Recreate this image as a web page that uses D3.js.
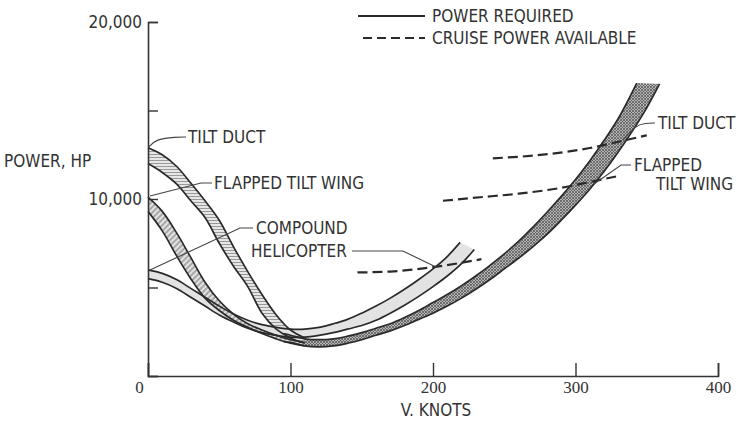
<!DOCTYPE html>
<html><head><meta charset="utf-8">
<script src="https://cdn.jsdelivr.net/npm/d3@7"></script>
<style>
html,body{margin:0;padding:0;background:#fff;}
svg text{font-family:'DejaVu Sans Condensed','DejaVu Sans',sans-serif;font-stretch:condensed;font-size:17px;fill:#333;}
</style></head>
<body><svg id="c" width="738" height="421"></svg>
<script>
// ---- data (V knots, power HP) ----
const xTicks = [0, 100, 200, 300, 400];
const yTicks = [0, 5000, 10000, 15000, 20000];
const yTickLabels = [10000, 20000];

const tiltDuctUpper = [[0,12900],[10,12500],[20,11850],[30,10900],[40,9900],[50,8800],[60,7300],[70,5900],[80,4600],[90,3450],[100,2600],[110,2150]];
const tiltDuctLower = [[0,12000],[10,11500],[20,10850],[30,9900],[40,8950],[50,7500],[60,6200],[70,5050],[80,3550],[90,2650],[100,2150],[110,1850]];

const tiltWingUpper = [[0,10100],[10,9300],[20,8100],[30,6700],[40,5300],[50,4250],[60,3500],[70,2950],[80,2600],[90,2300],[100,2050],[110,1900]];
const tiltWingLower = [[0,9300],[10,8200],[20,6800],[30,5500],[40,4400],[50,3700],[60,3150],[70,2750],[80,2400],[90,2100],[100,1850],[110,1700]];

const compoundUpper = [[0,6000],[10,5800],[20,5450],[30,4950],[40,4450],[50,3950],[60,3500],[70,3150],[80,2900],[90,2750],[100,2650],[110,2650],[120,2750],[130,2950],[140,3200],[150,3550],[160,3950],[170,4400],[180,4900],[190,5450],[200,6050],[210,6750],[219,7550]];
const compoundLower = [[0,5500],[10,5300],[20,4950],[30,4450],[40,3950],[50,3450],[60,3050],[70,2700],[80,2450],[90,2300],[100,2200],[110,2200],[120,2300],[130,2450],[140,2650],[150,2850],[160,3150],[170,3550],[180,4000],[190,4500],[200,5050],[210,5650],[220,6350],[229,7150]];

const highSpeedUpper = [[95,2400],[100,2300],[110,2100],[120,2050],[130,2100],[140,2250],[150,2450],[160,2700],[170,2950],[180,3300],[190,3700],[200,4150],[210,4600],[220,5100],[230,5650],[240,6250],[250,6900],[260,7600],[270,8400],[280,9250],[290,10150],[300,11100],[310,12150],[320,13300],[330,14550],[343,16550]];
const highSpeedLower = [[95,1950],[100,1900],[110,1700],[120,1650],[130,1700],[140,1850],[150,2050],[160,2300],[170,2550],[180,2850],[190,3200],[200,3550],[210,3950],[220,4400],[230,4900],[240,5450],[250,6050],[260,6650],[270,7300],[280,8000],[290,8800],[300,9650],[310,10550],[320,11550],[330,12650],[340,13850],[350,15150],[359,16500]];

const compoundAvail = [[147,5850],[170,5900],[200,6150],[234,6600]];
const tiltWingAvail = [[207,9900],[233,10100],[260,10300],[289,10620],[310,10960],[330,11300]];
const tiltDuctAvail = [[242,12300],[270,12450],[310,12880],[331,13250],[350,13600]];

// annotations (data units)
const labels = [
  {t:"TILT DUCT", v:28.1, p:13500},
  {t:"FLAPPED TILT WING", v:46.3, p:10900},
  {t:"COMPOUND", v:75.8, p:8360},
  {t:"HELICOPTER", v:72.3, p:7060},
  {t:"TILT DUCT", v:357.9, p:14290},
  {t:"FLAPPED", v:341, p:11920},
  {t:"TILT WING", v:356.5, p:10850}
];
const leaders = [
  {pts:[[26.7,13500],[19.6,13500],[6,13400],[0.7,12940]], curve:true},
  {pts:[[44.9,10900],[37.2,10900],[1.4,10170]]},
  {pts:[[73.7,8360],[64.6,8360],[1.4,5990]]},
  {pts:[[143.2,7060],[178.9,7060],[202.1,6160]]},
  {pts:[[355.8,14290],[348.8,14290],[342,14150],[333.3,13330]], curve:true},
  {pts:[[339,11920],[332,11920],[313,10850]]}
];

// ---- chart ----
const svg = d3.select("#c");
const x = d3.scaleLinear().domain([0,400]).range([148,718]);
const y = d3.scaleLinear().domain([0,20000]).range([376,22]);

const defs = svg.append("defs");
const pH = defs.append("pattern").attr("id","hatchH").attr("patternUnits","userSpaceOnUse").attr("width",4).attr("height",3);
pH.append("rect").attr("width",4).attr("height",3).attr("fill","#e6e6e6");
pH.append("line").attr("x1",0).attr("x2",4).attr("y1",1.5).attr("y2",1.5).attr("stroke","#999").attr("stroke-width",1);
const pD = defs.append("pattern").attr("id","hatchD").attr("patternUnits","userSpaceOnUse").attr("width",4).attr("height",4).attr("patternTransform","rotate(-45)");
pD.append("rect").attr("width",4).attr("height",4).attr("fill","#e2e2e2");
pD.append("line").attr("x1",0).attr("x2",4).attr("y1",2).attr("y2",2).attr("stroke","#888").attr("stroke-width",1.3);
const pX = defs.append("pattern").attr("id","cross").attr("patternUnits","userSpaceOnUse").attr("width",3).attr("height",3);
pX.append("rect").attr("width",3).attr("height",3).attr("fill","#b4b4b4");
pX.append("path").attr("d","M0,0L3,3M3,0L0,3").attr("stroke","#5a5a5a").attr("stroke-width",0.8);

const line = d3.line().x(d=>x(d[0])).y(d=>y(d[1])).curve(d3.curveCatmullRom.alpha(0.5));
function bandPath(up, lo){
  const a = line(up);
  const b = line(lo.slice().reverse());
  return a + "L" + b.substring(1) + "Z";
}

const bands = [
  {u:highSpeedUpper, l:highSpeedLower, fill:"url(#cross)"},
  {u:tiltDuctUpper, l:tiltDuctLower, fill:"url(#hatchH)"},
  {u:compoundUpper, l:compoundLower, fill:"#e3e3e3"},
  {u:tiltWingUpper, l:tiltWingLower, fill:"url(#hatchD)"}
];
bands.forEach(b=>{
  svg.append("path").attr("d",bandPath(b.u,b.l)).attr("fill",b.fill).attr("stroke","none");
});
bands.forEach(b=>{
  [b.u,b.l].forEach(s=>{
    svg.append("path").attr("d",line(s)).attr("fill","none").attr("stroke","#2a2a2a").attr("stroke-width",1.7);
  });
});

// dashed cruise power available
const lineLin = d3.line().x(d=>x(d[0])).y(d=>y(d[1])).curve(d3.curveMonotoneX);
[compoundAvail, tiltWingAvail, tiltDuctAvail].forEach(s=>{
  svg.append("path").attr("d",lineLin(s)).attr("fill","none").attr("stroke","#2a2a2a").attr("stroke-width",2.2).attr("stroke-dasharray","10,5");
});

// axes
const gx = svg.append("g").attr("transform",`translate(0,${y(0)})`)
  .call(d3.axisBottom(x).tickValues(xTicks).tickSize(-13).tickPadding(5).tickFormat(d3.format("d")));
gx.selectAll("text").style("font-family","'Liberation Serif',serif").style("font-size","17px")
  .attr("dx", d=> d===0 ? -9 : 0);
const gy = svg.append("g").attr("transform",`translate(${x(0)},0)`)
  .call(d3.axisLeft(y).tickValues(yTicks).tickSize(-10).tickPadding(6).tickFormat(d=> yTickLabels.includes(d) ? d3.format(",")(d) : ""));
[gx,gy].forEach(g=>{
  g.select(".domain").attr("stroke","#333").attr("stroke-width",1.6);
  g.selectAll(".tick line").attr("stroke","#333").attr("stroke-width",1.4);
  g.selectAll("text").attr("fill","#333");
});
gy.selectAll("text").style("font-size","17px").style("font-family","'DejaVu Sans Condensed','DejaVu Sans',sans-serif");

svg.append("text").attr("x",4).attr("y",161).attr("dy","0.35em").text("POWER, HP");
svg.append("text").attr("x",436).attr("y",410).attr("dy","0.35em").attr("text-anchor","middle").text("V. KNOTS");

// legend
svg.append("line").attr("x1",358).attr("x2",425).attr("y1",16).attr("y2",16).attr("stroke","#2a2a2a").attr("stroke-width",2);
svg.append("text").attr("x",432).attr("y",16).attr("dy","0.35em").text("POWER REQUIRED");
svg.append("line").attr("x1",363).attr("x2",425).attr("y1",38).attr("y2",38).attr("stroke","#2a2a2a").attr("stroke-width",2).attr("stroke-dasharray","9,5");
svg.append("text").attr("x",432).attr("y",38).attr("dy","0.35em").text("CRUISE POWER AVAILABLE");

// annotation labels and leaders
labels.forEach(l=>{
  svg.append("text").attr("x",x(l.v)).attr("y",y(l.p)).attr("dy","0.35em").text(l.t);
});
const lLine = d3.line().x(d=>x(d[0])).y(d=>y(d[1]));
const lCurve = d3.line().x(d=>x(d[0])).y(d=>y(d[1])).curve(d3.curveBasis);
leaders.forEach(ld=>{
  svg.append("path").attr("d",(ld.curve?lCurve:lLine)(ld.pts)).attr("fill","none").attr("stroke","#444").attr("stroke-width",1.1);
});
</script></body></html>
